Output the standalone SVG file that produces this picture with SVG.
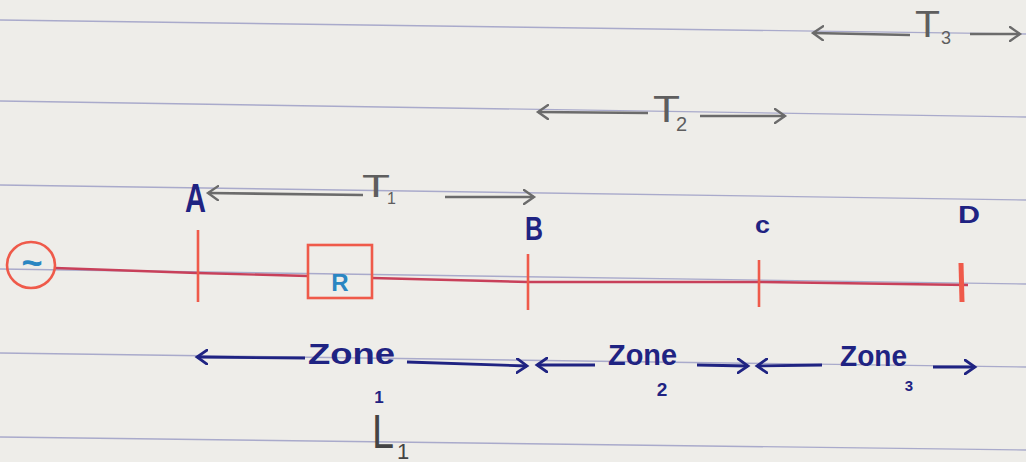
<svg xmlns="http://www.w3.org/2000/svg" width="1026" height="462" viewBox="0 0 1026 462">
<style>
.rule{stroke:#a9aacb;stroke-width:1.4;fill:none}
.red{stroke:#ef5a4a;stroke-width:2.6;fill:none}
.wire{stroke:#c8405a;stroke-width:2.4;fill:none}
.pen{stroke:#1f2382;stroke-width:2.8;fill:none}
.pencil{stroke:#6b6b6b;stroke-width:2.6;fill:none}
.lbl{font-family:"Liberation Sans",Arial,sans-serif;font-weight:bold;fill:#1f2382}
.zone{font-family:"Liberation Sans",Arial,sans-serif;font-weight:bold;fill:#1f2382}
.gt{font-family:"Liberation Sans",Arial,sans-serif;fill:#5e5e5e}
.blue{font-family:"Liberation Sans",Arial,sans-serif;font-weight:bold;fill:#2a86c2}
</style>
<defs>
<marker id="an" markerUnits="userSpaceOnUse" markerWidth="14" markerHeight="16" refX="11" refY="8" orient="auto">
<path d="M1,1 L11,8 L1,15" fill="none" stroke="#1f2382" stroke-width="2.8" stroke-linecap="round"/>
</marker>
<marker id="ag" markerUnits="userSpaceOnUse" markerWidth="14" markerHeight="16" refX="11" refY="8" orient="auto">
<path d="M1,1 L11,8 L1,15" fill="none" stroke="#6b6b6b" stroke-width="2.4" stroke-linecap="round"/>
</marker>
</defs>
<rect width="1026" height="462" fill="#eeede9"/>
<g id="paper-lines">
<line class="rule" x1="0" y1="20" x2="1026" y2="34"/>
<line class="rule" x1="0" y1="101" x2="1026" y2="117"/>
<line class="rule" x1="0" y1="185" x2="1026" y2="200"/>
<line class="rule" x1="0" y1="269" x2="1026" y2="284"/>
<line class="rule" x1="0" y1="353" x2="1026" y2="367"/>
<line class="rule" x1="0" y1="437" x2="1026" y2="450"/>
</g>
<g id="connectors">
<polyline class="wire" points="55,268 197,273 308,276"/>
<polyline class="wire" points="372,278 528,282 760,282 968,285"/>
<line class="pencil" x1="363" y1="195" x2="208" y2="193" marker-end="url(#ag)"/>
<line class="pencil" x1="445" y1="197" x2="534" y2="197" marker-end="url(#ag)"/>
<line class="pencil" x1="648" y1="113" x2="538" y2="112" marker-end="url(#ag)"/>
<line class="pencil" x1="700" y1="116" x2="785" y2="116" marker-end="url(#ag)"/>
<line class="pencil" x1="910" y1="35" x2="813" y2="33" marker-end="url(#ag)"/>
<line class="pencil" x1="970" y1="34" x2="1020" y2="34" marker-end="url(#ag)"/>
<line class="pen" x1="305" y1="358" x2="197" y2="357" marker-end="url(#an)"/>
<line class="pen" x1="407" y1="362" x2="527" y2="366" marker-end="url(#an)"/>
<line class="pen" x1="595" y1="365" x2="537" y2="365" marker-end="url(#an)"/>
<line class="pen" x1="697" y1="365" x2="748" y2="366" marker-end="url(#an)"/>
<line class="pen" x1="822" y1="365" x2="757" y2="366" marker-end="url(#an)"/>
<line class="pen" x1="933" y1="367" x2="975" y2="367" marker-end="url(#an)"/>
</g>
<g id="source">
<ellipse class="red" cx="31" cy="265" rx="24" ry="23"/>
<text class="blue" x="32" y="275" font-size="36" text-anchor="middle">~</text>
</g>
<g id="load-R">
<rect class="red" x="308" y="245" width="64" height="53"/>
<text class="blue" x="340" y="291" font-size="24" text-anchor="middle">R</text>
</g>
<g id="point-A">
<line class="red" x1="198" y1="230" x2="198" y2="302"/>
<text class="lbl" x="185" y="212" font-size="40" textLength="21" lengthAdjust="spacingAndGlyphs">A</text>
</g>
<g id="point-B">
<line class="red" x1="528" y1="254" x2="528" y2="310"/>
<text class="lbl" x="525" y="240" font-size="34" textLength="18" lengthAdjust="spacingAndGlyphs">B</text>
</g>
<g id="point-C">
<line class="red" x1="759" y1="260" x2="759" y2="307"/>
<text class="lbl" x="755" y="233" font-size="24" textLength="15" lengthAdjust="spacingAndGlyphs">c</text>
</g>
<g id="point-D">
<line class="red" x1="961" y1="263" x2="962" y2="302" style="stroke-width:5"/>
<text class="lbl" x="958" y="223" font-size="24" textLength="22" lengthAdjust="spacingAndGlyphs">D</text>
</g>
<g id="T1">
<text class="gt" x="362" y="197" font-size="31" textLength="28" lengthAdjust="spacingAndGlyphs">T</text>
<text class="gt" x="387" y="204" font-size="16">1</text>
</g>
<g id="T2">
<text class="gt" x="653" y="122" font-size="37" textLength="27" lengthAdjust="spacingAndGlyphs">T</text>
<text class="gt" x="676" y="131" font-size="20">2</text>
</g>
<g id="T3">
<text class="gt" x="915" y="37" font-size="37" textLength="25" lengthAdjust="spacingAndGlyphs">T</text>
<text class="gt" x="941" y="44" font-size="18">3</text>
</g>
<g id="zone-1">
<text class="zone" x="308" y="364" font-size="30" textLength="87" lengthAdjust="spacingAndGlyphs">Zone</text>
<text class="lbl" x="379" y="403" font-size="17" text-anchor="middle">1</text>
</g>
<g id="zone-2">
<text class="zone" x="608" y="365" font-size="30" textLength="69" lengthAdjust="spacingAndGlyphs">Zone</text>
<text class="lbl" x="662" y="396" font-size="19" text-anchor="middle">2</text>
</g>
<g id="zone-3">
<text class="zone" x="840" y="366" font-size="30" textLength="67" lengthAdjust="spacingAndGlyphs">Zone</text>
<text class="lbl" x="909" y="391" font-size="15" text-anchor="middle">3</text>
</g>
<g id="L1">
<text class="gt" x="372" y="448" font-size="48" textLength="22" lengthAdjust="spacingAndGlyphs" style="fill:#444">L</text>
<text class="gt" x="397" y="459" font-size="22" style="fill:#444">1</text>
</g>
</svg>
